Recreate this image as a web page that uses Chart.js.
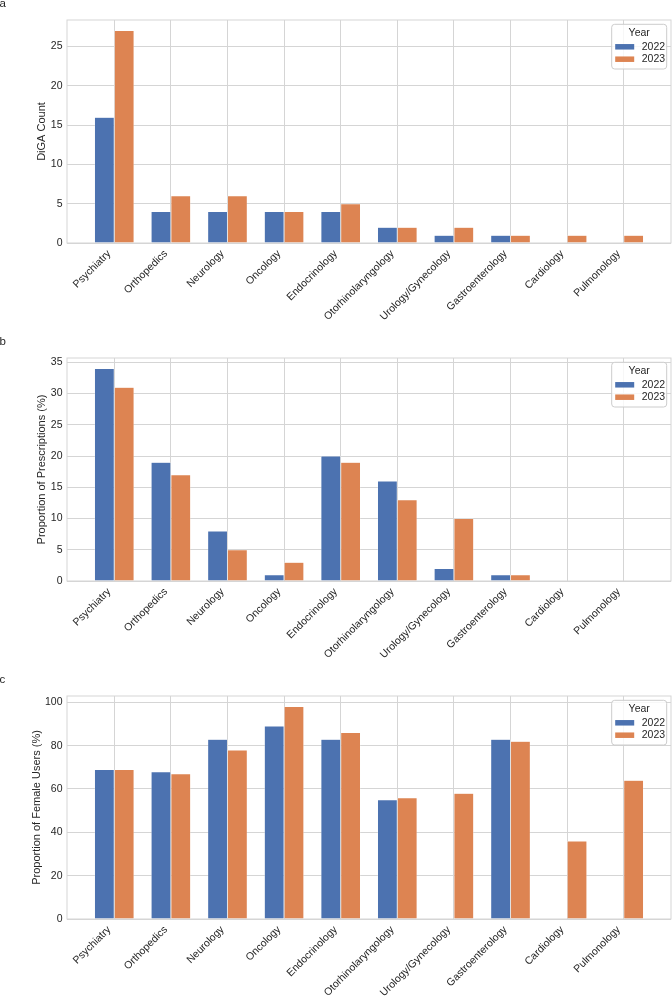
<!DOCTYPE html>
<html><head><meta charset="utf-8">
<script src="https://cdn.jsdelivr.net/npm/chart.js@4"></script>
<style>
html,body{margin:0;padding:0;background:#fff;width:672px;height:999px;overflow:hidden;position:relative;}
.panel{position:absolute;left:0;width:672px;height:338px;}
.lab{position:absolute;left:-0.5px;top:-1.8px;font:11.5px/1 "Liberation Sans",Arial,sans-serif;color:#262626;}
canvas{position:absolute;left:0;top:0;}
</style></head><body>
<div class="panel" style="top:0px"><canvas id="ca" width="672" height="338"></canvas><div class="lab">a</div></div>
<div class="panel" style="top:338px"><canvas id="cb" width="672" height="338"></canvas><div class="lab">b</div></div>
<div class="panel" style="top:676px"><canvas id="cc" width="672" height="338"></canvas><div class="lab">c</div></div>
<script>
const categories = ['Psychiatry','Orthopedics','Neurology','Oncology','Endocrinology','Otorhinolaryngology','Urology/Gynecology','Gastroenterology','Cardiology','Pulmonology'];
const years = ['2022','2023'];
const legendTitle = 'Year';
const digaCount2022 = [16,4,4,4,4,2,1,1,0,0];
const digaCount2023 = [27,6,6,4,5,2,2,1,1,1];
const prescriptions2022 = [34,19,8,1,20,16,2,1,0,0];
const prescriptions2023 = [31,17,5,3,19,13,10,1,0,0];
const female2022 = [69,68,83,89,83,55,null,83,null,null];
const female2023 = [69,67,78,98,86,56,58,82,36,64];
const stepA = 5, stepB = 5, stepC = 20;

const BLUE = '#4c72b0', ORANGE = '#dd8452';
const TXT = '#262626', GRID = '#d5d5d5';
const FONT = '"Liberation Sans", Arial, sans-serif';
const CANVAS_H = 338, PLOT_BOTTOM = 243, PLOT_TOP = 20, Y_AXIS_W = 67;

const framePlugin = {
  id: 'frame',
  beforeDatasetsDraw(chart) {
    const {ctx, chartArea: a} = chart;
    ctx.save();
    ctx.strokeStyle = GRID; ctx.lineWidth = 1;
    ctx.strokeRect(a.left, a.top, a.right - a.left, a.bottom - a.top);
    ctx.restore();
  }
};

const legendPlugin = {
  id: 'boxLegend',
  afterDraw(chart) {
    const {ctx, chartArea: a} = chart;
    const bw = 55, bh = 44.7;
    const bx = a.right - 59.3, by = a.top + 4.3;
    ctx.save();
    ctx.beginPath();
    ctx.roundRect(bx, by, bw, bh, 3);
    ctx.fillStyle = 'rgba(255,255,255,0.8)'; ctx.fill();
    ctx.strokeStyle = '#cccccc'; ctx.lineWidth = 1; ctx.stroke();
    ctx.font = '10.5px ' + FONT;
    ctx.fillStyle = TXT; ctx.textAlign = 'center'; ctx.textBaseline = 'middle';
    ctx.fillText(legendTitle, bx + 27.5, by + 8.5);
    chart.data.datasets.forEach((ds, i) => {
      const cy = by + 22.5 + i * 12.4;
      ctx.fillStyle = ds.backgroundColor;
      ctx.fillRect(bx + 3.5, cy - 2.75, 19, 5.5);
      ctx.fillStyle = TXT; ctx.textAlign = 'left';
      ctx.fillText(ds.label, bx + 30, cy + 0.3);
    });
    ctx.restore();
  }
};

function makeChart(id, s22, s23, yTitle, step, titlePad) {
  const maxVal = Math.max(...s22.concat(s23).filter(v => v != null));
  const ds = (label, vals, color) => ({
    label, data: vals.map((v, i) => ({x: i, y: v})),
    backgroundColor: color, borderColor: 'rgba(255,255,255,0.75)', borderWidth: 0.5, borderSkipped: 'start'
  });
  return new Chart(document.getElementById(id), {
    type: 'bar',
    data: {datasets: [ds(years[0], s22, BLUE), ds(years[1], s23, ORANGE)]},
    options: {
      responsive: false, animation: false, devicePixelRatio: 1,
      layout: {padding: {top: PLOT_TOP, right: 1, left: 0, bottom: 0}},
      datasets: {bar: {categoryPercentage: 0.7, barPercentage: 1}},
      plugins: {legend: {display: false}, tooltip: {enabled: false}},
      scales: {
        x: {
          type: 'linear', min: -0.835, max: categories.length - 1 + 0.835, offset: false,
          grid: {color: GRID, lineWidth: 1, drawTicks: false, offset: false},
          border: {display: false},
          afterBuildTicks: s => { s.ticks = categories.map((c, i) => ({value: i})); },
          afterFit: s => { s.height = CANVAS_H - PLOT_BOTTOM; },
          ticks: {autoSkip: false, maxRotation: 45, minRotation: 45, padding: 4.5, labelOffset: -5, color: TXT,
            font: {family: FONT, size: 10.5}, callback: v => categories[v]}
        },
        y: {
          min: 0, max: maxVal * 1.05,
          grid: {color: GRID, lineWidth: 1, drawTicks: false},
          border: {display: false},
          afterFit: s => { s.width = Y_AXIS_W; },
          ticks: {stepSize: step, includeBounds: false, padding: 4.5, color: TXT, font: {family: FONT, size: 10.5}},
          title: {display: true, text: yTitle, color: TXT, font: {family: FONT, size: 11}, padding: {top: titlePad, bottom: 0}}
        }
      }
    },
    plugins: [framePlugin, legendPlugin]
  });
}

makeChart('ca', digaCount2022, digaCount2023, 'DiGA Count', stepA, 35.4);
makeChart('cb', prescriptions2022, prescriptions2023, 'Proportion of Prescriptions (%)', stepB, 35.6);
makeChart('cc', female2022, female2023, 'Proportion of Female Users (%)', stepC, 30.2);
</script>
</body></html>
